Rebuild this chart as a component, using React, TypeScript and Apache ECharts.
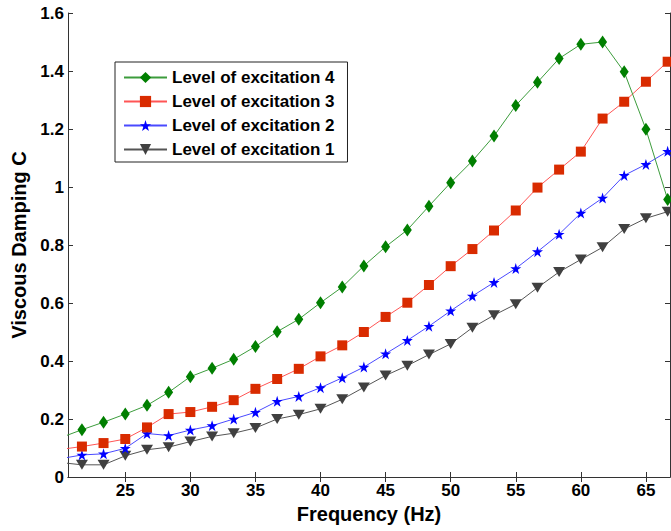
import React, { useEffect, useRef } from "react";
import * as echarts from "echarts";

const freqs = [20, 21.67, 23.33, 25, 26.67, 28.33, 30, 31.67, 33.33, 35, 36.67, 38.33, 40, 41.67, 43.33, 45, 46.67, 48.33, 50, 51.67, 53.33, 55, 56.67, 58.33, 60, 61.67, 63.33, 65, 66.67];

const level4 = [0.135, 0.163, 0.189, 0.217, 0.247, 0.292, 0.346, 0.375, 0.406, 0.450, 0.501, 0.544, 0.601, 0.655, 0.728, 0.794, 0.852, 0.934, 1.015, 1.090, 1.176, 1.281, 1.361, 1.443, 1.492, 1.500, 1.397, 1.199, 0.957];
const level3 = [0.095, 0.105, 0.117, 0.131, 0.171, 0.217, 0.224, 0.242, 0.265, 0.304, 0.338, 0.373, 0.416, 0.454, 0.500, 0.552, 0.601, 0.662, 0.727, 0.786, 0.850, 0.919, 0.998, 1.060, 1.122, 1.236, 1.294, 1.363, 1.432];
const level2 = [0.063, 0.076, 0.080, 0.099, 0.150, 0.143, 0.162, 0.177, 0.200, 0.223, 0.261, 0.278, 0.308, 0.342, 0.379, 0.425, 0.471, 0.520, 0.573, 0.624, 0.671, 0.719, 0.777, 0.837, 0.910, 0.962, 1.040, 1.078, 1.123];
const level1 = [0.050, 0.042, 0.042, 0.073, 0.094, 0.103, 0.122, 0.140, 0.151, 0.169, 0.200, 0.215, 0.235, 0.268, 0.309, 0.350, 0.384, 0.422, 0.459, 0.515, 0.558, 0.596, 0.653, 0.707, 0.750, 0.792, 0.855, 0.892, 0.915];

const xTicks = [25, 30, 35, 40, 45, 50, 55, 60, 65];
const seriesNames = ["Level of excitation 1", "Level of excitation 2", "Level of excitation 3", "Level of excitation 4"];
const legendOrder = ["Level of excitation 4", "Level of excitation 3", "Level of excitation 2", "Level of excitation 1"];

const starPath = "path://M50,0L61.2,34.5L97.6,34.5L68.2,55.9L79.4,90.5L50,69.1L20.6,90.5L31.8,55.9L2.4,34.5L38.8,34.5Z";
const FONT = "'Liberation Sans', Arial, sans-serif";

function toPairs(vals: number[]) {
  return vals.map((v, i) => (i === 0 ? { value: [freqs[i], v], symbol: "none" } : [freqs[i], v]));
}

export default function App() {
  const ref = useRef<HTMLDivElement>(null);
  useEffect(() => {
    if (!ref.current) return;
    const chart = echarts.init(ref.current, null, { renderer: "svg" });
    const axisLine = { show: true, lineStyle: { color: "#333", width: 1 } };
    const axisTickX = { show: true, inside: true, length: 5, customValues: xTicks, lineStyle: { color: "#333" } };
    const axisTickY = { show: true, inside: true, length: 5, lineStyle: { color: "#333" } };
    chart.setOption({
      animation: false,
      backgroundColor: "#fff",
      grid: { left: 68, right: 1, top: 13, bottom: 54, containLabel: false },
      legend: {
        data: legendOrder,
        orient: "vertical",
        left: 115,
        top: 62,
        padding: [7, 13, 4, 8],
        itemWidth: 43,
        itemHeight: 14,
        itemGap: 7,
        symbolRotate: "inherit",
        backgroundColor: "#fff",
        borderColor: "#222",
        borderWidth: 1,
        borderRadius: 0,
        textStyle: { fontFamily: FONT, fontSize: 17, fontWeight: "bold", color: "#000", padding: [0, 0, 0, 0] },
      },
      xAxis: [
        {
          type: "value",
          min: 20.6,
          max: 66.85,
          position: "bottom",
          name: "Frequency (Hz)",
          nameLocation: "middle",
          nameGap: 25,
          nameTextStyle: { fontFamily: FONT, fontSize: 20, fontWeight: "bold", color: "#000" },
          axisLine,
          axisTick: axisTickX,
          axisLabel: { customValues: xTicks, margin: 5, fontFamily: FONT, fontSize: 17, fontWeight: "bold", color: "#000" },
          splitLine: { show: false },
        },
        {
          type: "value",
          min: 20.6,
          max: 66.85,
          position: "top",
          axisLine,
          axisTick: axisTickX,
          axisLabel: { show: false },
          splitLine: { show: false },
        },
      ],
      yAxis: [
        {
          type: "value",
          min: 0,
          max: 1.6,
          interval: 0.2,
          position: "left",
          name: "Viscous Damping C",
          nameLocation: "middle",
          nameGap: 36,
          nameTextStyle: { fontFamily: FONT, fontSize: 20, fontWeight: "bold", color: "#000" },
          axisLine,
          axisTick: axisTickY,
          axisLabel: { margin: 4, fontFamily: FONT, fontSize: 17, fontWeight: "bold", color: "#000" },
          splitLine: { show: false },
        },
        {
          type: "value",
          min: 0,
          max: 1.6,
          interval: 0.2,
          position: "right",
          axisLine,
          axisTick: axisTickY,
          axisLabel: { show: false },
          splitLine: { show: false },
        },
      ],
      series: [
        {
          name: seriesNames[0],
          type: "line",
          data: toPairs(level1),
          symbol: "triangle",
          symbolRotate: 180,
          symbolSize: [12, 10],
          itemStyle: { color: "#404040" },
          lineStyle: { color: "#555", width: 1 },
          clip: true,
        },
        {
          name: seriesNames[1],
          type: "line",
          data: toPairs(level2),
          symbol: starPath,
          symbolSize: 11,
          itemStyle: { color: "#0000ff" },
          lineStyle: { color: "#4a4aff", width: 1 },
          clip: true,
        },
        {
          name: seriesNames[2],
          type: "line",
          data: toPairs(level3),
          symbol: "rect",
          symbolSize: 10,
          itemStyle: { color: "#d92b00" },
          lineStyle: { color: "#ff5555", width: 1 },
          clip: true,
        },
        {
          name: seriesNames[3],
          type: "line",
          data: toPairs(level4),
          symbol: "diamond",
          symbolSize: [9, 13],
          itemStyle: { color: "#007f00" },
          lineStyle: { color: "#3c9c3c", width: 1 },
          clip: true,
        },
      ],
    });
    return () => chart.dispose();
  }, []);
  return (
    <div
      ref={ref}
      style={{ position: "fixed", left: 0, top: 0, width: 671, height: 531, background: "#fff" }}
    />
  );
}
